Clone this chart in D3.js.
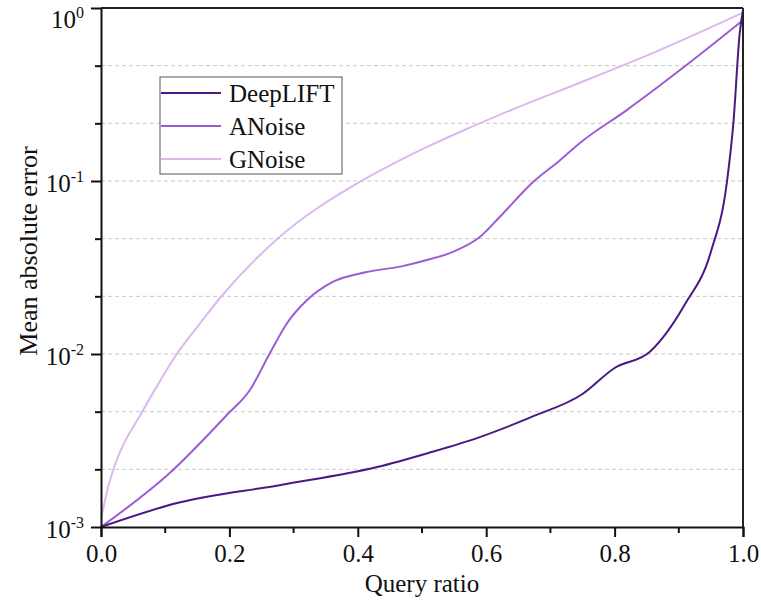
<!DOCTYPE html>
<html>
<head>
<meta charset="utf-8">
<script src="https://cdn.jsdelivr.net/npm/d3@7"></script>
<style>
  body { margin: 0; background: #fff; }
  svg text { font-family: "Liberation Serif", "Times New Roman", serif; fill: #111; }
</style>
</head>
<body>
<div id="chart"></div>
<script>
// chart size and plot margins (plot box roughly 101..743 x 8..527)
const width = 761, height = 608,
  margins = { top: 8, bottom: 81, left: 101, right: 18 };

// series data (query ratio -> mean absolute error)
const seriesNames = ["DeepLIFT", "ANoise", "GNoise"];
const seriesColors = ["#4a1a82", "#9c5cd4", "#dcb8ef"];

const deepliftX = [0, 0.12, 0.28, 0.43, 0.51, 0.59, 0.67, 0.75, 0.80, 0.855, 0.91, 0.95, 0.975, 0.985, 0.995, 1.0];
const deepliftY = [0.001, 0.00138, 0.00175, 0.00222, 0.00268, 0.00331, 0.00432, 0.00587, 0.0083, 0.0103, 0.0195, 0.039, 0.099, 0.216, 0.72, 0.97];

const anoiseX = [0, 0.107, 0.196, 0.232, 0.263, 0.29, 0.321, 0.361, 0.414, 0.466, 0.502, 0.548, 0.59, 0.621, 0.673, 0.715, 0.746, 0.819, 0.922, 1.0];
const anoiseY = [0.001, 0.00205, 0.00444, 0.00619, 0.0101, 0.0151, 0.0205, 0.0261, 0.0298, 0.032, 0.0345, 0.0389, 0.0474, 0.0619, 0.0987, 0.132, 0.166, 0.257, 0.50, 0.85];

const gnoiseX = [0, 0.011, 0.022, 0.064, 0.087, 0.118, 0.154, 0.185, 0.274, 0.403, 0.466, 0.512, 0.57, 0.642, 0.746, 0.86, 1.0];
const gnoiseY = [0.00111, 0.0017, 0.0023, 0.00462, 0.0065, 0.0100, 0.0150, 0.0210, 0.046, 0.0987, 0.132, 0.160, 0.200, 0.260, 0.370, 0.55, 0.94];

const xTicks = [0, 0.2, 0.4, 0.6, 0.8, 1.0];
const xMinorTicks = [0.1, 0.3, 0.5, 0.7, 0.9];
const yDecades = [-3, -2, -1, 0];

const allSeries = [
  { name: seriesNames[0], color: seriesColors[0], xs: deepliftX, ys: deepliftY, w: 2 },
  { name: seriesNames[1], color: seriesColors[1], xs: anoiseX, ys: anoiseY, w: 2 },
  { name: seriesNames[2], color: seriesColors[2], xs: gnoiseX, ys: gnoiseY, w: 2 }
];

const svg = d3.select("#chart").append("svg")
  .attr("width", width)
  .attr("height", height);

const xScale = d3.scaleLinear()
  .domain([0, 1])
  .range([margins.left, width - margins.right]);

const yScale = d3.scaleLog()
  .domain([1e-3, 1])
  .range([height - margins.bottom, margins.top]);

// minor y positions every third of a decade
let yAllTicks = [];
for (let k = -9; k <= 0; k++) yAllTicks.push(Math.pow(10, k / 3));

// dashed grid lines
svg.append("g")
  .selectAll("line")
  .data(yAllTicks.filter(v => v > 1.001e-3 && v < 0.999))
  .join("line")
  .attr("x1", xScale(0))
  .attr("x2", xScale(1))
  .attr("y1", d => yScale(d))
  .attr("y2", d => yScale(d))
  .attr("stroke", "#c8c8c8")
  .attr("stroke-width", 1)
  .attr("stroke-dasharray", "4,3");

// the lines
const line = d3.line()
  .x(d => xScale(d[0]))
  .y(d => yScale(d[1]))
  .curve(d3.curveMonotoneX);

svg.append("g")
  .selectAll("path")
  .data(allSeries.slice().reverse())
  .join("path")
  .attr("fill", "none")
  .attr("stroke", d => d.color)
  .attr("stroke-width", d => d.w)
  .attr("d", d => line(d.xs.map((x, i) => [x, d.ys[i]])));

// frame: top and right
svg.append("line")
  .attr("x1", xScale(0)).attr("x2", xScale(1))
  .attr("y1", yScale(1)).attr("y2", yScale(1))
  .attr("stroke", "#222").attr("stroke-width", 2);
svg.append("line")
  .attr("x1", xScale(1)).attr("x2", xScale(1))
  .attr("y1", yScale(1)).attr("y2", yScale(1e-3))
  .attr("stroke", "#222").attr("stroke-width", 2);

// x axis
const xAxis = svg.append("g")
  .attr("transform", `translate(0, ${yScale(1e-3)})`)
  .call(d3.axisBottom(xScale).tickValues(xTicks).tickSize(10).tickPadding(7).tickFormat(d3.format(".1f")));
xAxis.select(".domain").attr("stroke", "#111").attr("stroke-width", 2);
xAxis.selectAll(".tick line").attr("stroke", "#111").attr("stroke-width", 2);
xAxis.selectAll(".tick text").style("font-size", "25px").style("font-family", "Liberation Serif").attr("fill", "#111");

xAxis.selectAll(".minor")
  .data(xMinorTicks)
  .join("line")
  .attr("class", "minor")
  .attr("x1", d => xScale(d)).attr("x2", d => xScale(d))
  .attr("y1", 0).attr("y2", 6)
  .attr("stroke", "#111").attr("stroke-width", 2);

// y axis
const yAxis = svg.append("g")
  .attr("transform", `translate(${xScale(0)}, 0)`)
  .call(d3.axisLeft(yScale).tickValues(yAllTicks).tickSize(0).tickFormat(""));
yAxis.select(".domain").attr("stroke", "#111").attr("stroke-width", 2);
yAxis.selectAll(".tick line")
  .attr("x2", (d, i) => (Math.abs(Math.log10(d) - Math.round(Math.log10(d))) < 1e-6 ? -10 : -6))
  .attr("stroke", "#111").attr("stroke-width", 2);

// decade labels 10^n
const yLabels = yAxis.selectAll(".ylab")
  .data(yDecades)
  .join("text")
  .attr("class", "ylab")
  .attr("x", -17)
  .attr("y", d => Math.max(yScale(Math.pow(10, d)) + 11, 28))
  .attr("text-anchor", "end")
  .style("font-size", "25px");
yLabels.append("tspan").text("10");
yLabels.append("tspan")
  .attr("dy", -10)
  .style("font-size", "16px")
  .text(d => d === 0 ? "0" : "-" + Math.abs(d));

// axis titles
svg.append("text")
  .attr("x", (xScale(0) + xScale(1)) / 2)
  .attr("y", 592)
  .attr("text-anchor", "middle")
  .style("font-size", "25px")
  .text("Query ratio");

svg.append("text")
  .attr("transform", `translate(37, ${251}) rotate(-90)`)
  .attr("text-anchor", "middle")
  .style("font-size", "26px")
  .text("Mean absolute error");

// legend
const legend = svg.append("g").attr("transform", "translate(160, 77)");
legend.append("rect")
  .attr("width", 182).attr("height", 97)
  .attr("fill", "#fff").attr("stroke", "#555").attr("stroke-width", 1);
const items = legend.selectAll(".item")
  .data(allSeries)
  .join("g")
  .attr("class", "item")
  .attr("transform", (d, i) => `translate(0, ${16 + i * 33})`);
items.append("line")
  .attr("x1", 1).attr("x2", 61)
  .attr("stroke", d => d.color).attr("stroke-width", 2);
items.append("text")
  .attr("x", 69).attr("y", 9)
  .style("font-size", "25px")
  .text(d => d.name);
</script>
</body>
</html>
